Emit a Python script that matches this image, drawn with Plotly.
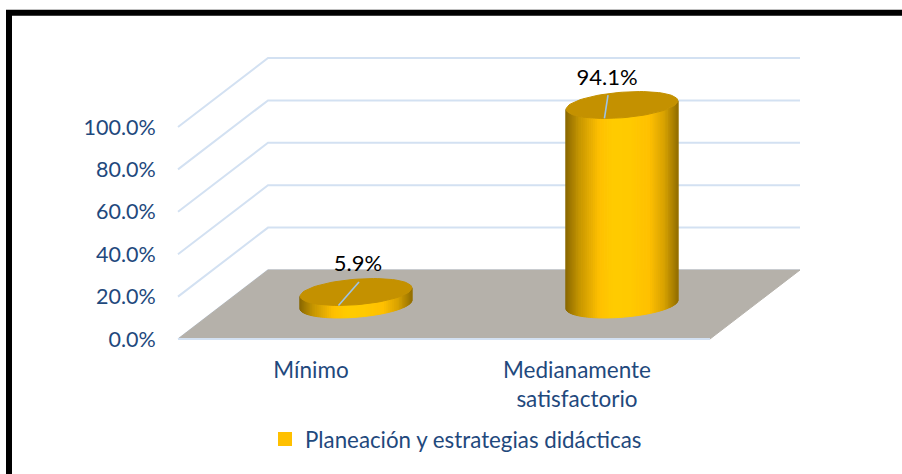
import math
import plotly.graph_objects as go

categories = ["Mínimo", "Medianamente<br>satisfactorio"]
values = [5.9, 94.1]
value_labels = ["5.9%", "94.1%"]
y_ticks = [0, 20, 40, 60, 80, 100]
y_tick_labels = ["0.0%", "20.0%", "40.0%", "60.0%", "80.0%", "100.0%"]
series_name = "Planeación y estrategias didácticas"

W, H = 902, 474
# pixel frame of the plot area
PX_L, PX_R, PX_T, PX_B = 170, 810, 50, 345
# front plane: x 178..710 at two categories, 0 at y=339, 100 at y=127
X_UNIT = 266.0
Y_UNIT = 2.12
X0_PX, Y0_PX = 178.0, 339.0
# how far the back wall is shifted from the front plane, in data units
DEPTH_X = 90 / X_UNIT
DEPTH_Y = 69 / Y_UNIT
# cylinder radius
RAD_X = 53 / X_UNIT
RAD_D = 0.195
# value labels sit off the cylinder axis by this many px
LABEL_SHIFT = [2, -15]

GRID = "#d3e1f2"
FLOOR = "#b5b1aa"
TOP = "#c49100"
TEXT = "#1f497d"
FONT = "Lato"
STOPS = [(0.0, (138, 104, 0)), (0.12, (198, 150, 0)), (0.30, (255, 192, 0)), (0.42, (255, 204, 0)),
         (0.58, (255, 202, 0)), (0.75, (255, 192, 0)), (0.88, (217, 163, 0)), (1.0, (150, 113, 0))]


def side_color(f):
    for (a, ca), (b, cb) in zip(STOPS, STOPS[1:]):
        if f <= b:
            k = (f - a) / (b - a)
            return "rgb(%d,%d,%d)" % tuple(ca[i] + (cb[i] - ca[i]) * k for i in range(3))
    return "rgb(150,113,0)"


def rim(cx, v, t):
    # point of the cylinder circle at height v, seen through the oblique projection
    d = 0.5 + RAD_D * math.sin(t)
    return cx + RAD_X * math.cos(t) + DEPTH_X * d, v + DEPTH_Y * d


def poly(xs, ys, color):
    return go.Scatter(x=xs, y=ys, mode="lines", fill="toself", fillcolor=color,
                      line=dict(color=color, width=1), hoverinfo="skip", showlegend=False)


def stroke(xs, ys, color=GRID, width=2):
    return go.Scatter(x=xs, y=ys, mode="lines", line=dict(color=color, width=width),
                      hoverinfo="skip", showlegend=False)


fig = go.Figure()

# walls
for v in y_ticks[1:]:
    fig.add_trace(stroke([0, DEPTH_X, 2 + DEPTH_X], [v, v + DEPTH_Y, v + DEPTH_Y]))

# floor
fig.add_trace(stroke([0, DEPTH_X, 2 + DEPTH_X], [0, DEPTH_Y, DEPTH_Y], width=1.5))
fig.add_trace(poly([0, 2, 2 + DEPTH_X, DEPTH_X, 0], [0, 0, DEPTH_Y, DEPTH_Y, 0], FLOOR))
fig.add_trace(stroke([0, 2], [0, 0]))

# cylinders
tilt = math.atan2(DEPTH_X * RAD_D, RAD_X)
for i, v in enumerate(values):
    cx = i + 0.5
    n = 70
    angles = [math.pi + tilt + math.pi * k / n for k in range(n + 1)]
    left = rim(cx, 0, angles[0])[0]
    right = rim(cx, 0, angles[-1])[0]
    for a, b in zip(angles, angles[1:]):
        p0, p1 = rim(cx, 0, a), rim(cx, 0, b)
        q0, q1 = rim(cx, v, a), rim(cx, v, b)
        f = ((p0[0] + p1[0]) / 2 - left) / (right - left)
        fig.add_trace(poly([p0[0], p1[0], q1[0], q0[0], p0[0]], [p0[1], p1[1], q1[1], q0[1], p0[1]], side_color(f)))
    ring = [rim(cx, v, 2 * math.pi * k / 80) for k in range(81)]
    fig.add_trace(poly([p[0] for p in ring], [p[1] for p in ring], TOP))

    # leader line and value label
    front = rim(cx, v, -math.pi / 2)
    top_x = cx + DEPTH_X * 0.5
    top_y = v + DEPTH_Y * 0.5
    fig.add_trace(stroke([front[0], top_x + (LABEL_SHIFT[i] + 1) / X_UNIT], [front[1], top_y + 10 / Y_UNIT], "#9dc3e6", 1.6))
    fig.add_trace(go.Scatter(x=[top_x + LABEL_SHIFT[i] / X_UNIT], y=[top_y + 26 / Y_UNIT], mode="text",
                             text=[value_labels[i]], textposition="middle center",
                             textfont=dict(family=FONT, size=22, color="black"),
                             hoverinfo="skip", showlegend=False))

# legend entry
fig.add_trace(go.Scatter(x=[None], y=[None], mode="markers", name=series_name,
                         marker=dict(symbol="square", size=14, color="#ffc000")))

x_range = [(PX_L - X0_PX) / X_UNIT, (PX_R - X0_PX) / X_UNIT]
y_range = [(Y0_PX - PX_B) / Y_UNIT, (Y0_PX - PX_T) / Y_UNIT]

# black frame
fig.add_shape(type="rect", xref="paper", yref="paper", x0=9 / W, x1=1.02, y0=-0.02, y1=1 - 12.7 / H,
              line=dict(color="black", width=6), fillcolor="rgba(0,0,0,0)")

fig.update_layout(
    width=W, height=H, autosize=False, paper_bgcolor="white", plot_bgcolor="rgba(0,0,0,0)",
    margin=dict(l=0, r=0, t=0, b=0),
    font=dict(family=FONT, size=20, color=TEXT),
    xaxis=dict(domain=[PX_L / W, PX_R / W], range=x_range, tickmode="array", tickvals=[0.5, 1.5], ticktext=categories,
               showgrid=False, zeroline=False, showline=False, ticks="outside", ticklen=5, tickcolor="rgba(0,0,0,0)",
               automargin=False, tickfont=dict(family=FONT, size=22.5, color=TEXT)),
    yaxis=dict(domain=[1 - PX_B / H, 1 - PX_T / H], range=y_range, tickmode="array", tickvals=y_ticks, ticktext=y_tick_labels,
               showgrid=False, zeroline=False, showline=False, ticks="outside", ticklen=9, tickcolor="rgba(0,0,0,0)",
               automargin=False, tickfont=dict(family=FONT, size=21.5, color=TEXT)),
    showlegend=True,
    legend=dict(orientation="h", x=265 / W, xanchor="left", y=1 - 439 / H, yanchor="middle",
                bgcolor="rgba(0,0,0,0)", font=dict(family=FONT, size=22.3, color=TEXT)),
)

# the page's default body margin would push the chart 8px in
fig.write_html("out.html", config=dict(displayModeBar=False), post_script="document.body.style.margin='0';")
